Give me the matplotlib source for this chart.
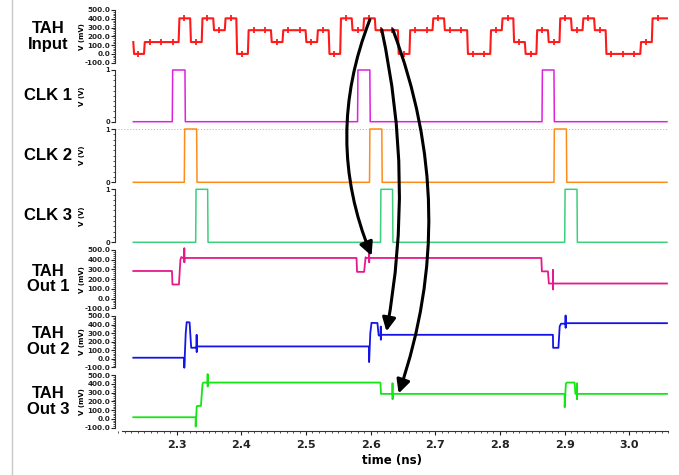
import matplotlib
matplotlib.use('Agg')
import matplotlib.pyplot as plt
from matplotlib.patches import ConnectionPatch
from matplotlib.lines import Line2D
from matplotlib.ticker import MultipleLocator, FormatStrFormatter, FixedLocator

# ---- data (time in ns, voltages in mV or V) ----
# TAH input: PAM-like steps, one level per sample period
in_t0 = 2.24946          # edge of sample k=0
in_period = 0.017852
in_start, in_first = 2.2329, 135
in_end = 3.0584
in_levels = [0, 135, 135, 135, 405, 135, 405, 270, 405, 0, 270, 270, 135, 270, 270,
             135, 270, 0, 405, 270, 405, 270, 270, 0, 270, 270, 405, 270, 270, 0, 0,
             270, 405, 135, 0, 270, 135, 405, 270, 405, 270, 0, 0, 0, 135, 405, 405]

# clock pulses (rise, fall) in ns
clk1_on = [2.2932, 2.5798, 2.8651]
clk1_off = [2.3128, 2.5988, 2.8836]
clk2_on = [2.3118, 2.5983, 2.8836]
clk2_off = [2.3309, 2.6173, 2.9028]
clk3_on = [2.3294, 2.6153, 2.9002]
clk3_off = [2.3479, 2.6339, 2.9192]

# TAH outputs, breakpoints
out1_t = [2.2329, 2.2927, 2.2935, 2.3035, 2.3058, 2.3072, 2.3095, 2.3117, 2.3118, 2.3119,
          2.3120, 2.5782, 2.5790, 2.5900, 2.5922, 2.5935, 2.5976, 2.5977, 2.5978, 2.5979,
          2.8641, 2.8649, 2.8743, 2.8757, 2.8820, 2.8821, 2.8822, 2.8823, 3.0584]
out1_v = [284, 284, 145, 145, 400, 428, 418, 418, 519, 373, 418, 418, 275, 275, 425, 418,
          418, 462, 373, 418, 418, 280, 280, 155, 155, 296, 94, 155, 155]

out2_t = [2.2329, 2.3117, 2.3118, 2.3140, 2.3155, 2.3200, 2.3210, 2.3225, 2.3300, 2.3308,
          2.3309, 2.3310, 2.3311, 2.5976, 2.5977, 2.5995, 2.6014, 2.6105, 2.6125, 2.6156,
          2.6157, 2.6158, 2.6159, 2.8820, 2.8823, 2.8905, 2.8925, 2.8945, 2.9015, 2.9016,
          2.9017, 2.9018, 3.0584]
out2_v = [12, 12, -105, 300, 428, 425, 300, 128, 130, 130, 280, 78, 144, 144, -39, 300,
          420, 418, 272, 272, 377, 222, 280, 280, 128, 128, 380, 410, 410, 506, 362, 416, 416]

out3_t = [2.2329, 2.3293, 2.3294, 2.3310, 2.3318, 2.3375, 2.3400, 2.3411, 2.3478, 2.3479,
          2.3480, 2.3481, 2.6152, 2.6160, 2.6338, 2.6339, 2.6340, 2.6341, 2.9001, 2.9002,
          2.9020, 2.9035, 2.9155, 2.9168, 2.9191, 2.9192, 2.9193, 2.9194, 3.0584]
out3_v = [19, 19, -87, 140, 148, 148, 400, 414, 414, 510, 369, 414, 414, 285, 285, 407,
          224, 285, 285, 133, 400, 414, 414, 285, 285, 407, 224, 285, 285]

# arrows: from input (t, mV) to output panel (t, mV)
arrow_from = [(2.5988, 390), (2.6172, 276), (2.6344, 276)]
arrow_to = [(2.6015, 440), (2.6245, 320), (2.6433, 290)]
arrow_target = [4, 5, 6]
arrow_rad = [0.2, -0.1, -0.18]

names = ['TAH\nInput', 'CLK 1', 'CLK 2', 'CLK 3', 'TAH\nOut 1', 'TAH\nOut 2', 'TAH\nOut 3']
colors = ['#ff1a1a', '#dd22dd', '#ff8c1a', '#3ccf7c', '#e6198c', '#1414e6', '#14e614']


def step_wave(t0, period, levels, t_start, first, t_end, ramp=0.0012):
    xs, ys = [t_start], [first]
    prev = first
    for i, lv in enumerate(levels):
        tb = max(t0 + (i - 1) * period, t_start)
        if tb >= t_end:
            break
        if lv != prev:
            xs += [tb, tb + ramp]
            ys += [prev, lv]
        prev = lv
    xs.append(t_end)
    ys.append(prev)
    return xs, ys


def pulse_wave(ons, offs, t_start, t_end, edge=0.0006):
    xs, ys = [t_start], [0]
    for a, b in zip(ons, offs):
        xs += [a, a + edge, b, b + edge]
        ys += [0, 1, 1, 0]
    xs.append(t_end)
    ys.append(0)
    return xs, ys


fig = plt.figure(figsize=(6.79, 4.75), dpi=100)

# panel boxes in pixels (top, bottom)
boxes = [(10, 62.7), (70, 121.7), (129, 182.3), (189.3, 242.3),
         (250, 308.3), (316, 367.3), (375, 427.7)]
W, H = 679, 475
left, right = 115, 668
xlim = (2.2046, 3.0600)

axes = []
for i, (top, bot) in enumerate(boxes):
    ax = fig.add_axes([left / W, 1 - bot / H, (right - left) / W, (bot - top) / H])
    ax.set_xlim(*xlim)
    for s in ['top', 'right', 'bottom']:
        ax.spines[s].set_visible(False)
    ax.spines['left'].set_linewidth(0.8)
    ax.spines['left'].set_color('#333333')
    if i in (1, 2, 3):
        ax.set_ylim(0, 1)
        ax.yaxis.set_major_locator(FixedLocator([0, 1]))
        ax.yaxis.set_minor_locator(MultipleLocator(0.1))
        ax.yaxis.set_major_formatter(FormatStrFormatter('%d'))
        ylab = 'V (V)'
        lsize = 4.8
    else:
        ax.set_ylim(-100, 500)
        ax.yaxis.set_major_locator(MultipleLocator(100))
        ax.yaxis.set_minor_locator(MultipleLocator(20))
        ax.yaxis.set_major_formatter(FormatStrFormatter('%.1f'))
        ylab = 'V (mV)'
        lsize = 5.2
    ax.tick_params(axis='y', which='major', length=2.6, width=0.8, pad=1,
                   labelsize=lsize, colors='#222222')
    ax.tick_params(axis='y', which='minor', length=1.5, width=0.6, colors='#333333')
    for lab in ax.get_yticklabels():
        lab.set_fontweight('bold')
    ax.set_ylabel(ylab, fontsize=5, fontweight='bold')
    ax.yaxis.set_label_coords(-0.054, 0.5)
    if i < 6:
        ax.set_xticks([])
    ax.patch.set_alpha(0)
    fig.text(48 / W, 1 - (top + bot) / 2 / H, names[i], ha='center', va='center',
             fontsize=12, fontweight='bold', family='Liberation Sans', linespacing=1.05)
    axes.append(ax)

# grid on CLK 2
axes[2].grid(axis='y', which='major', linestyle=':', color='#bbbbbb', linewidth=0.8)

# input
xi, yi = step_wave(in_t0, in_period, in_levels, in_start, in_first, in_end)
axes[0].plot(xi, yi, color=colors[0], lw=1.5)
mid_t = [in_t0 + (i - 0.5) * in_period for i in range(len(in_levels))]
mk = [(t, v) for t, v in zip(mid_t, in_levels) if in_start < t < in_end]
axes[0].plot([m[0] for m in mk], [m[1] for m in mk], '|', color=colors[0],
             markersize=5, markeredgewidth=1.3)

# clocks
for ax, on, off, c in zip(axes[1:4], [clk1_on, clk2_on, clk3_on],
                          [clk1_off, clk2_off, clk3_off], colors[1:4]):
    xc, yc = pulse_wave(on, off, in_start, in_end)
    ax.plot(xc, yc, color=c, lw=1.1, clip_on=False, zorder=3)

# outputs
for ax, tt, vv, c in zip(axes[4:], [out1_t, out2_t, out3_t],
                         [out1_v, out2_v, out3_v], colors[4:]):
    ax.plot(tt, vv, color=c, lw=1.3, clip_on=False)

# bottom time axis
axb = axes[6]
axb.spines['bottom'].set_visible(True)
axb.spines['bottom'].set_position(('outward', 2.5))
axb.spines['bottom'].set_bounds(2.2155, xlim[1])
axb.spines['bottom'].set_linewidth(0.8)
axb.spines['bottom'].set_color('#333333')
axb.xaxis.set_major_locator(MultipleLocator(0.1))
axb.xaxis.set_minor_locator(MultipleLocator(0.01))
axb.xaxis.set_major_formatter(FormatStrFormatter('%.1f'))
axb.tick_params(axis='x', which='major', length=3, width=0.8, pad=3, labelsize=8,
                colors='#222222')
axb.tick_params(axis='x', which='minor', length=1.6, width=0.6, colors='#333333')
for lab in axb.get_xticklabels():
    lab.set_fontweight('bold')
axb.set_xlabel('time (ns)', fontsize=8.5, fontweight='bold', labelpad=3)

# arrows
for (a, b, tgt, r) in zip(arrow_from, arrow_to, arrow_target, arrow_rad):
    con = ConnectionPatch(xyA=a, coordsA=axes[0].transData, xyB=b,
                          coordsB=axes[tgt].transData, arrowstyle='-|>',
                          connectionstyle='arc3,rad=%.2f' % r, color='black',
                          lw=2.2, mutation_scale=20, shrinkA=0, shrinkB=0)
    fig.add_artist(con)

# frame line at left
fig.add_artist(Line2D([12 / W, 12 / W], [0, 1], transform=fig.transFigure,
                      color='#c8c8c8', lw=1))

fig.savefig('out.png', dpi=100)
